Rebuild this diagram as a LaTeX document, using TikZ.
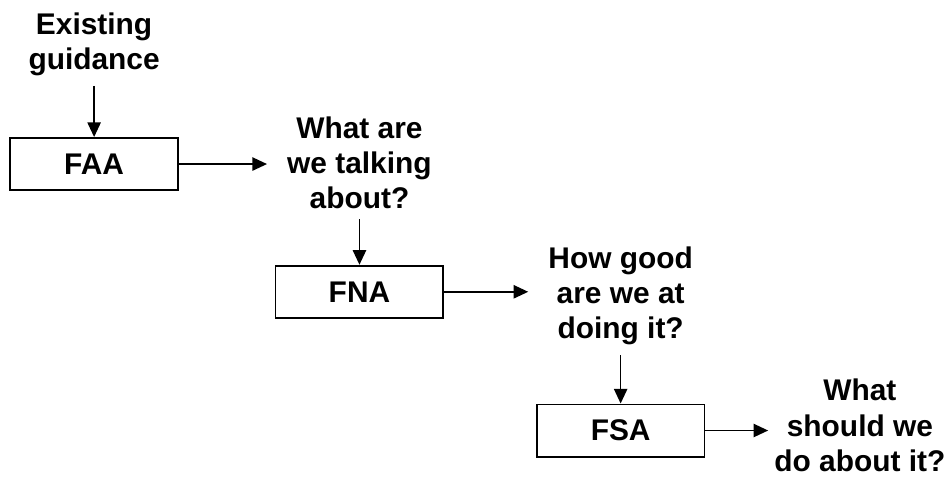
\documentclass[tikz,border=0pt]{standalone}
\usepackage{fontspec}
\setmainfont{Liberation Sans}
\usepackage{tikz}
\usetikzlibrary{arrows.meta,calc}

\begin{document}
\begin{tikzpicture}[
    stage/.style={draw, line width=1.4pt, minimum width=4.44cm, minimum height=1.38cm},
    question/.style={align=center, anchor=north, inner xsep=15pt, inner ysep=7.5pt},
    flow/.style={line width=1.2pt, -{Triangle[length=11pt,width=10pt]}}
]
    \useasboundingbox (0,0) rectangle (25.16,12.65);
    \fontsize{22.5}{26.5}\selectfont\bfseries

    % Drawing the questions
    \node[question] (guide) at (2.49,12.59) {Existing\\guidance};
    \node[question] (talk) at (9.51,9.84) {What are\\we talking\\about?};
    \node[question] (good) at (16.42,6.40) {How good\\are we at\\doing it?};
    \node[question, inner xsep=4.5pt, inner ysep=1pt] (act) at (22.75,2.66) {What\\should we\\do about it?};

    % Drawing the assessment boxes
    \node[stage] (faa) at (2.49,8.31) {FAA};
    \node[stage] (fna) at (9.51,4.93) {FNA};
    \node[stage] (fsa) at (16.42,1.26) {FSA};

    % Connecting them
    \draw[flow] (guide) -- (faa);
    \draw[flow] (faa) -- (faa -| talk.west);
    \draw[flow] (talk) -- (fna);
    \draw[flow] (fna) -- (fna -| good.west);
    \draw[flow] (good) -- (fsa);
    \draw[flow] (fsa) -- (fsa -| act.west);
\end{tikzpicture}
\end{document}
